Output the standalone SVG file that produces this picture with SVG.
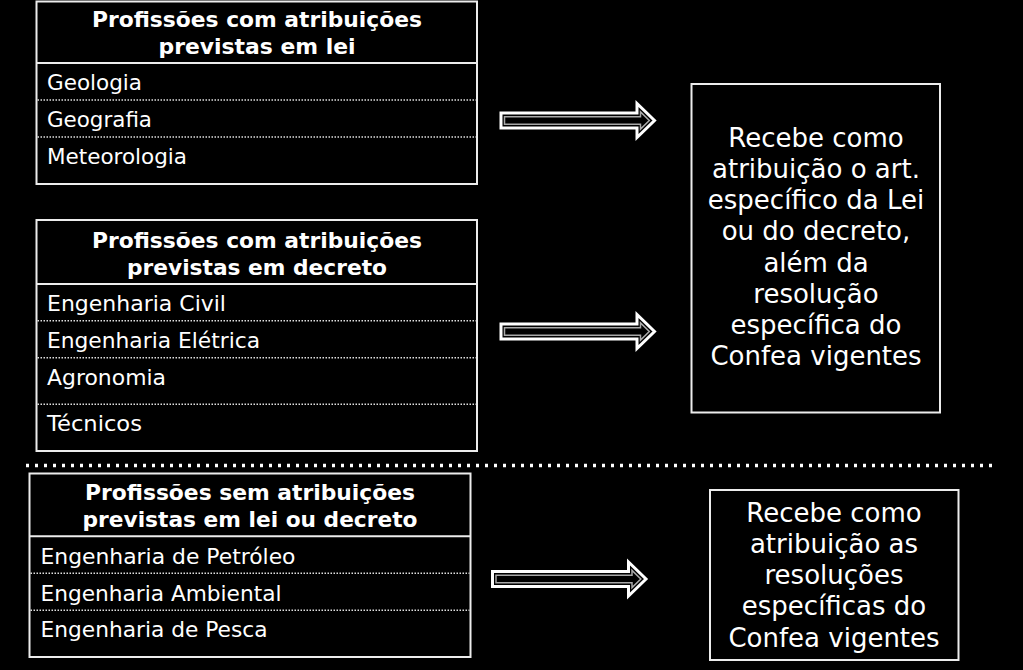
<svg xmlns="http://www.w3.org/2000/svg" width="1023" height="670" viewBox="0 0 1023 670">
<style>
.frame{fill:#000;stroke:#ececec;stroke-width:2}
.sep{stroke:#ececec;stroke-width:2}
.dot{stroke:#e0e0e0;stroke-width:1.5;stroke-dasharray:1.5 1.5}
.hd{font-family:"DejaVu Sans",Verdana,sans-serif;font-weight:bold;font-size:20.5px;fill:#fff;text-anchor:middle}
.it{font-family:"DejaVu Sans",Verdana,sans-serif;font-size:21px;fill:#fff}
.rt{font-family:"DejaVu Sans",Verdana,sans-serif;font-size:26px;fill:#fff;text-anchor:middle}
</style>
<defs>
<g id="arrow">
<polygon points="1.5,-7.5 137.5,-7.5 137.5,-17 155,0 137.5,17 137.5,7.5 1.5,7.5" fill="#000" stroke="#fff" stroke-width="3" stroke-linejoin="miter"/>
<polygon points="5,-3.8 141,-3.8 141,-8.6 149.8,0 141,8.6 141,3.8 5,3.8" fill="#000" stroke="#a8a8a8" stroke-width="1.5"/>
</g>
</defs>
<rect width="1023" height="670" fill="#000"/>

<g id="box-lei">
<rect class="frame" x="36.5" y="1.5" width="440.5" height="182.5"/>
<line class="sep" x1="36.5" y1="63" x2="477" y2="63"/>
<line class="dot" x1="37.5" y1="100" x2="476" y2="100"/>
<line class="dot" x1="37.5" y1="137" x2="476" y2="137"/>
<text class="hd" x="257" y="27" textLength="330" lengthAdjust="spacingAndGlyphs">Profissões com atribuições</text>
<text class="hd" x="257" y="54" textLength="197" lengthAdjust="spacingAndGlyphs">previstas em lei</text>
<text class="it" x="47" y="90" textLength="95" lengthAdjust="spacingAndGlyphs">Geologia</text>
<text class="it" x="47" y="127" textLength="105" lengthAdjust="spacingAndGlyphs">Geografia</text>
<text class="it" x="47" y="164" textLength="140" lengthAdjust="spacingAndGlyphs">Meteorologia</text>
</g>

<g id="box-decreto">
<rect class="frame" x="36.5" y="220" width="440.5" height="231"/>
<line class="sep" x1="36.5" y1="284" x2="477" y2="284"/>
<line class="dot" x1="37.5" y1="320.7" x2="476" y2="320.7"/>
<line class="dot" x1="37.5" y1="357.7" x2="476" y2="357.7"/>
<line class="dot" x1="37.5" y1="404.3" x2="476" y2="404.3"/>
<text class="hd" x="257" y="248.3" textLength="330" lengthAdjust="spacingAndGlyphs">Profissões com atribuições</text>
<text class="hd" x="257" y="275" textLength="260" lengthAdjust="spacingAndGlyphs">previstas em decreto</text>
<text class="it" x="47" y="310.5" textLength="179" lengthAdjust="spacingAndGlyphs">Engenharia Civil</text>
<text class="it" x="47" y="347.5" textLength="213" lengthAdjust="spacingAndGlyphs">Engenharia Elétrica</text>
<text class="it" x="47" y="384.5" textLength="119" lengthAdjust="spacingAndGlyphs">Agronomia</text>
<text class="it" x="47" y="431" textLength="95" lengthAdjust="spacingAndGlyphs">Técnicos</text>
</g>

<line id="divider" x1="26" y1="465.5" x2="996" y2="465.5" stroke="#fff" stroke-width="3.5" stroke-dasharray="3 6"/>

<g id="box-sem">
<rect class="frame" x="29.5" y="473.5" width="441" height="183.5"/>
<line class="sep" x1="29.5" y1="536.3" x2="470.5" y2="536.3"/>
<line class="dot" x1="30.5" y1="573.3" x2="469.5" y2="573.3"/>
<line class="dot" x1="30.5" y1="610.3" x2="469.5" y2="610.3"/>
<text class="hd" x="250" y="500" textLength="330" lengthAdjust="spacingAndGlyphs">Profissões sem atribuições</text>
<text class="hd" x="250" y="526.7" textLength="335" lengthAdjust="spacingAndGlyphs">previstas em lei ou decreto</text>
<text class="it" x="40.5" y="564" textLength="255" lengthAdjust="spacingAndGlyphs">Engenharia de Petróleo</text>
<text class="it" x="40.5" y="600.5" textLength="241" lengthAdjust="spacingAndGlyphs">Engenharia Ambiental</text>
<text class="it" x="40.5" y="637" textLength="227" lengthAdjust="spacingAndGlyphs">Engenharia de Pesca</text>
</g>

<g id="result-1">
<rect class="frame" x="691.5" y="84" width="248.5" height="328.5"/>
<text class="rt" x="816" y="146.7">Recebe como</text>
<text class="rt" x="816" y="177.9">atribuição o art.</text>
<text class="rt" x="816" y="209.1">específico da Lei</text>
<text class="rt" x="816" y="240.3">ou do decreto,</text>
<text class="rt" x="816" y="271.5">além da</text>
<text class="rt" x="816" y="302.7">resolução</text>
<text class="rt" x="816" y="333.9">específica do</text>
<text class="rt" x="816" y="365.1">Confea vigentes</text>
</g>

<g id="result-2">
<rect class="frame" x="710" y="490" width="248.5" height="170"/>
<text class="rt" x="834" y="521.7">Recebe como</text>
<text class="rt" x="834" y="552.9">atribuição as</text>
<text class="rt" x="834" y="584.1">resoluções</text>
<text class="rt" x="834" y="615.3">específicas do</text>
<text class="rt" x="834" y="646.5">Confea vigentes</text>
</g>

<g id="connectors">
<use href="#arrow" transform="translate(499.5,120.5)"/>
<use href="#arrow" transform="translate(499.5,331.5)"/>
<use href="#arrow" transform="translate(491,579)"/>
</g>
</svg>
